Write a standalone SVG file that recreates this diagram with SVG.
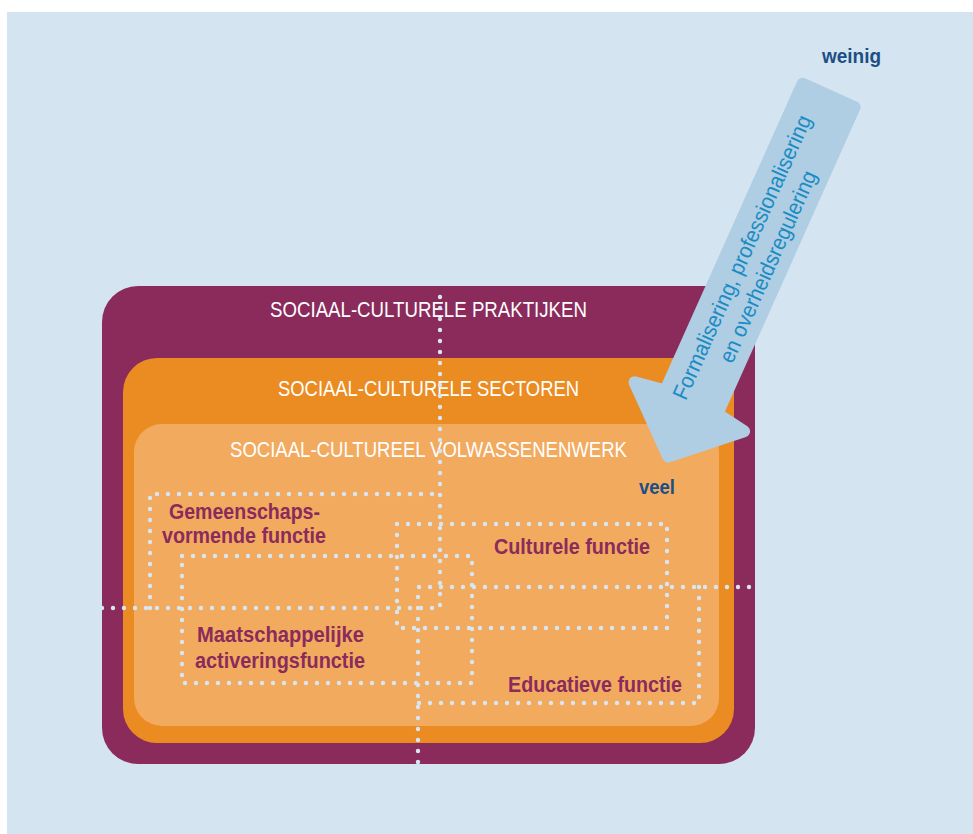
<svg xmlns="http://www.w3.org/2000/svg" width="973" height="834" viewBox="0 0 973 834">
<style>
.hdr{font-family:"Liberation Sans",Arial,sans-serif;font-size:22.5px;fill:#ffffff;text-anchor:start}
.fn{font-family:"Liberation Sans",Arial,sans-serif;font-size:21.5px;font-weight:bold;fill:#8a2b5c}
.lvl{font-family:"Liberation Sans",Arial,sans-serif;font-size:21px;font-weight:bold;fill:#1b4f85}
.arr{font-family:"Liberation Sans",Arial,sans-serif;font-size:22px;fill:#1a8cc4;text-anchor:middle}
.dot{fill:none;stroke:#d6e6f2;stroke-width:4.4;stroke-linecap:round;stroke-dasharray:0 11}
</style>
<rect x="0" y="0" width="973" height="834" fill="#ffffff"/>
<rect x="7" y="12" width="966" height="822" fill="#d4e4f0"/>
<g id="praktijken">
<rect x="102" y="286" width="653" height="478" rx="36" ry="36" fill="#8a2b5c"/>
<text class="hdr" x="270" y="317" textLength="317" lengthAdjust="spacingAndGlyphs">SOCIAAL-CULTURELE PRAKTIJKEN</text>
</g>
<g id="sectoren">
<rect x="123" y="358" width="611" height="385" rx="34" ry="34" fill="#eb8c22"/>
<text class="hdr" x="278" y="396" textLength="301" lengthAdjust="spacingAndGlyphs">SOCIAAL-CULTURELE SECTOREN</text>
</g>
<g id="volwassenenwerk">
<rect x="134" y="424" width="585" height="302" rx="28" ry="28" fill="#f2aa5f"/>
<text class="hdr" x="230" y="457" textLength="397" lengthAdjust="spacingAndGlyphs">SOCIAAL-CULTUREEL VOLWASSENENWERK</text>
</g>
<g id="connectors">
<path class="dot" d="M102,608 H440 V286 M150,608 V494 H440"/>
<path class="dot" d="M418,762 V587 H755 M699,587 V703 H418"/>
<path class="dot" d="M397,524 H667 V628 H397 Z"/>
<path class="dot" d="M182,556 H472 V683 H182 Z"/>
</g>
<g id="gemeenschapsvormende">
<text class="fn" x="169" y="519" textLength="151" lengthAdjust="spacingAndGlyphs">Gemeenschaps-</text>
<text class="fn" x="162" y="543" textLength="164" lengthAdjust="spacingAndGlyphs">vormende functie</text>
</g>
<g id="culturele">
<text class="fn" x="494" y="554" textLength="156" lengthAdjust="spacingAndGlyphs">Culturele functie</text>
</g>
<g id="maatschappelijke">
<text class="fn" x="197" y="642" textLength="167" lengthAdjust="spacingAndGlyphs">Maatschappelijke</text>
<text class="fn" x="195" y="668" textLength="170" lengthAdjust="spacingAndGlyphs">activeringsfunctie</text>
</g>
<g id="educatieve">
<text class="fn" x="508" y="692" textLength="174" lengthAdjust="spacingAndGlyphs">Educatieve functie</text>
</g>
<g id="arrow" transform="translate(831,90) rotate(24.1)">
<path d="M-28.5,6 L28.5,6 L28.5,342 L60,347 L1,401 L-60,347 L-28.5,342 Z" fill="#afcde3" stroke="#afcde3" stroke-width="12" stroke-linejoin="round"/>
<text class="arr" transform="translate(-5.5,189) rotate(-90)" textLength="309" lengthAdjust="spacingAndGlyphs">Formalisering, professionalisering</text>
<text class="arr" transform="translate(22,187) rotate(-90)" textLength="208" lengthAdjust="spacingAndGlyphs">en overheidsregulering</text>
</g>
<g id="weinig">
<text class="lvl" x="822" y="63" textLength="59" lengthAdjust="spacingAndGlyphs">weinig</text>
</g>
<g id="veel">
<text class="lvl" x="639" y="494" textLength="36" lengthAdjust="spacingAndGlyphs">veel</text>
</g>
</svg>
